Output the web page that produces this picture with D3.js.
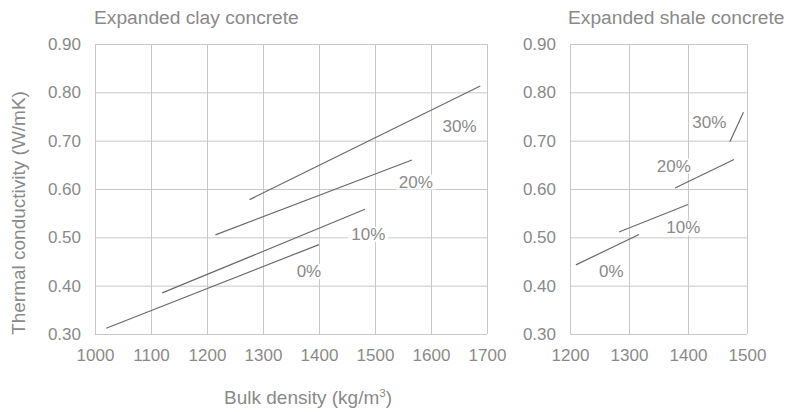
<!DOCTYPE html>
<html>
<head>
<meta charset="utf-8">
<script src="https://cdn.jsdelivr.net/npm/d3@7"></script>
<style>
  html, body { margin: 0; padding: 0; background: #fff; }
  svg { display: block; }
  text { font-family: "Liberation Sans", Arial, Helvetica, sans-serif; }
</style>
</head>
<body>
<svg id="chart" width="787" height="412"></svg>
<script>
// ---- Data ----
const seriesLabels = ["0%", "10%", "20%", "30%"];

// Expanded clay concrete: line end points (bulk density, conductivity)
const clayX = [[1020, 1400], [1120, 1482], [1215, 1566], [1276, 1688]];
const clayY = [[0.312, 0.485], [0.385, 0.558], [0.505, 0.660], [0.578, 0.813]];
const clayLabelX = [1382, 1488, 1573, 1651];
const clayLabelY = [0.418, 0.4945, 0.603, 0.7186];

// Expanded shale concrete
const shaleX = [[1210, 1317], [1283, 1400], [1378, 1478], [1471, 1494]];
const shaleY = [[0.443, 0.506], [0.511, 0.568], [0.602, 0.661], [0.698, 0.759]];
const shaleLabelX = [1270, 1392, 1376, 1436];
const shaleLabelY = [0.4186, 0.508, 0.636, 0.7256];

const clayTicks = [1000, 1100, 1200, 1300, 1400, 1500, 1600, 1700];
const shaleTicks = [1200, 1300, 1400, 1500];
const yTicks = [0.30, 0.40, 0.50, 0.60, 0.70, 0.80, 0.90];

const titles = ["Expanded clay concrete", "Expanded shale concrete"];
const yTitle = "Thermal conductivity (W/mK)";

// ---- Drawing ----
const svg = d3.select("#chart");
const textColor = "#8a8a8a";
const gridColor = "#c8c8c8";
const lineColor = "#6a6a6a";

const plotTop = 44, plotBottom = 334;
const y = d3.scaleLinear().domain([0.30, 0.90]).range([plotBottom, plotTop]);

function panel(opts) {
  const x = d3.scaleLinear().domain(opts.domain).range(opts.range);
  const g = svg.append("g");

  // vertical grid
  g.append("g").attr("transform", `translate(0,${plotBottom})`)
    .call(d3.axisBottom(x).tickValues(opts.xTicks).tickSize(-(plotBottom - plotTop)).tickFormat(""))
    .call(s => s.select(".domain").remove())
    .call(s => s.selectAll("line").attr("stroke", gridColor).attr("stroke-width", 1));
  // horizontal grid
  g.append("g").attr("transform", `translate(${opts.range[0]},0)`)
    .call(d3.axisLeft(y).tickValues(yTicks).tickSize(-(opts.range[1] - opts.range[0])).tickFormat(""))
    .call(s => s.select(".domain").remove())
    .call(s => s.selectAll("line").attr("stroke", gridColor).attr("stroke-width", 1));

  // x tick labels
  g.append("g").attr("transform", `translate(0,${plotBottom})`)
    .call(d3.axisBottom(x).tickValues(opts.xTicks).tickSize(0).tickPadding(15).tickFormat(d3.format("d")))
    .call(s => s.select(".domain").remove())
    .call(s => s.selectAll("text").attr("fill", textColor).attr("font-size", 17));
  // y tick labels
  g.append("g").attr("transform", `translate(${opts.range[0]},0)`)
    .call(d3.axisLeft(y).tickValues(yTicks).tickSize(0).tickPadding(14).tickFormat(d3.format(".2f")))
    .call(s => s.select(".domain").remove())
    .call(s => s.selectAll("text").attr("fill", textColor).attr("font-size", 17));

  // lines
  const line = d3.line().x(d => x(d[0])).y(d => y(d[1]));
  seriesLabels.forEach((lab, i) => {
    const pts = opts.xs[i].map((v, j) => [v, opts.ys[i][j]]);
    g.append("path").attr("d", line(pts))
      .attr("fill", "none").attr("stroke", lineColor).attr("stroke-width", 1.2);
  });

  // series labels with white background
  seriesLabels.forEach((lab, i) => {
    const t = g.append("text")
      .attr("x", x(opts.lx[i])).attr("y", y(opts.ly[i]))
      .attr("text-anchor", "middle")
      .attr("fill", textColor).attr("font-size", 17)
      .text(lab);
    const bb = t.node().getBBox();
    g.insert("rect", () => t.node())
      .attr("x", bb.x - 3).attr("y", bb.y + 2)
      .attr("width", bb.width + 6).attr("height", bb.height - 4)
      .attr("fill", "#fff");
  });

  // title
  svg.append("text").attr("x", opts.titleX).attr("y", 24)
    .attr("fill", textColor).attr("font-size", 19.2).text(opts.title);
}

panel({ domain: [1000, 1700], range: [95, 487], xTicks: clayTicks,
  xs: clayX, ys: clayY, lx: clayLabelX, ly: clayLabelY, title: titles[0], titleX: 94 });
panel({ domain: [1200, 1500], range: [570, 747], xTicks: shaleTicks,
  xs: shaleX, ys: shaleY, lx: shaleLabelX, ly: shaleLabelY, title: titles[1], titleX: 568 });

// y axis title
svg.append("text")
  .attr("transform", "translate(25,213) rotate(-90)")
  .attr("text-anchor", "middle")
  .attr("fill", textColor).attr("font-size", 19)
  .text(yTitle);

// x axis title
const xt = svg.append("text")
  .attr("x", 308).attr("y", 404)
  .attr("text-anchor", "middle")
  .attr("fill", textColor).attr("font-size", 19);
xt.append("tspan").text("Bulk density (kg/m");
xt.append("tspan").attr("font-size", 11.5).attr("dy", -7).text("3");
xt.append("tspan").attr("dy", 7).text(")");
</script>
</body>
</html>
